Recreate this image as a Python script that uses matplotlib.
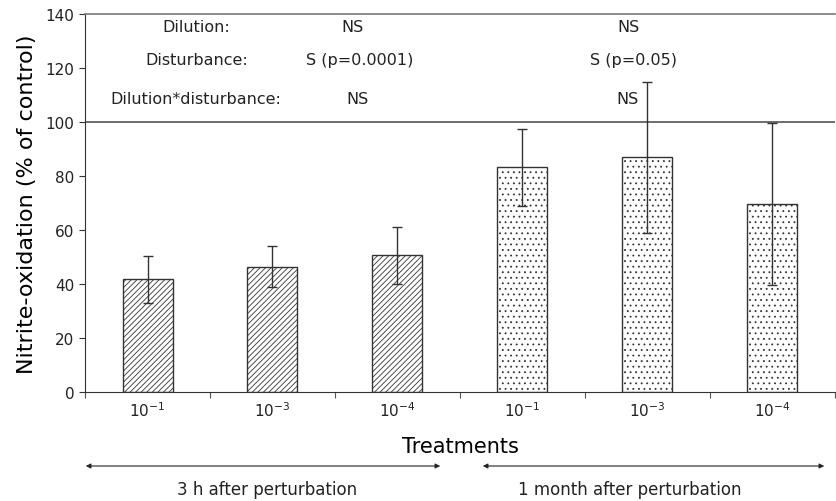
import numpy as np
import matplotlib
matplotlib.use("Agg")
import matplotlib.pyplot as plt

# Data
labels = ['$10^{-1}$', '$10^{-3}$', '$10^{-4}$', '$10^{-1}$', '$10^{-3}$', '$10^{-4}$']
means = [41.7, 46.5, 50.6, 83.2, 87.0, 69.5]
errs = [8.7, 7.6, 10.4, 14.4, 28.0, 30.0]
hatches = ['//////', '//////', '//////', '...', '...', '...']
ticks_y = [0, 20, 40, 60, 80, 100, 120, 140]

stat_rows = ['Dilution:', 'Disturbance:', 'Dilution*disturbance:']
stat_3h = ['NS', 'S (p=0.0001)', 'NS']
stat_1m = ['NS', 'S (p=0.05)', 'NS']
periods = ['3 h after perturbation', '1 month after perturbation']

plt.rcParams['hatch.linewidth'] = 0.6
plt.rcParams['text.color'] = '#222222'
plt.rcParams['xtick.color'] = '#222222'
plt.rcParams['ytick.color'] = '#222222'
fig = plt.figure(figsize=(8.36, 5.02), dpi=100)
ax = fig.add_axes([0.1017, 0.217, 0.897, 0.753])

x = np.arange(len(means))
for i in range(len(means)):
    ax.bar(x[i], means[i], width=0.4, color='white', edgecolor='#333333',
           hatch=hatches[i], linewidth=1.0, zorder=2)
ax.errorbar(x, means, yerr=errs, fmt='none', ecolor='#333333', elinewidth=1.0,
            capsize=3.5, capthick=1.0, zorder=3)

ax.set_xlim(-0.5, 5.5)
ax.set_ylim(0, 140)
ax.set_yticks(ticks_y)
ax.set_xticks(np.arange(-0.5, 5.6, 1.0))
ax.set_xticklabels([])
ax.set_xticks(x, minor=True)
ax.set_xticklabels(labels, minor=True, fontsize=11)
ax.tick_params(axis='x', which='minor', length=0, pad=6)
ax.tick_params(axis='x', which='major', length=4, direction='out', color='#555555')
ax.tick_params(axis='y', labelsize=11, length=4, color='#333333')

ax.spines['right'].set_visible(False)
ax.spines['top'].set_color('#777777')
ax.spines['top'].set_linewidth(1.2)
ax.spines['left'].set_color('#333333')
ax.spines['bottom'].set_color('#333333')
ax.axhline(100, color='#555555', linewidth=1.2, zorder=1)

ax.set_ylabel('Nitrite-oxidation (% of control)', fontsize=16, labelpad=6)
ax.set_xlabel('Treatments', fontsize=15, labelpad=12)

# statistics text in the upper panel
ys = [135.3, 123.2, 108.7]
x_3h = [1.64, 1.70, 1.68]
x_1m = [3.85, 3.89, 3.84]
for r in range(3):
    ax.text(0.39, ys[r], stat_rows[r], ha='center', va='center', fontsize=11.5)
    ax.text(x_3h[r], ys[r], stat_3h[r], ha='center', va='center', fontsize=11.5)
    ax.text(x_1m[r], ys[r], stat_1m[r], ha='center', va='center', fontsize=11.5)

# period arrows below the axis
arrow_y = 1 - 467 / 502
fig.add_artist(matplotlib.patches.FancyArrowPatch(
    (83 / 836, arrow_y), (443 / 836, arrow_y), transform=fig.transFigure,
    arrowstyle='<|-|>', mutation_scale=7, color='#222222', linewidth=0.8))
fig.add_artist(matplotlib.patches.FancyArrowPatch(
    (480 / 836, arrow_y), (827 / 836, arrow_y), transform=fig.transFigure,
    arrowstyle='<|-|>', mutation_scale=7, color='#222222', linewidth=0.8))
fig.text(267 / 836, 1 - 490 / 502, periods[0], ha='center', va='center', fontsize=12)
fig.text(630 / 836, 1 - 490 / 502, periods[1], ha='center', va='center', fontsize=12)

fig.savefig('out.png', dpi=100)
